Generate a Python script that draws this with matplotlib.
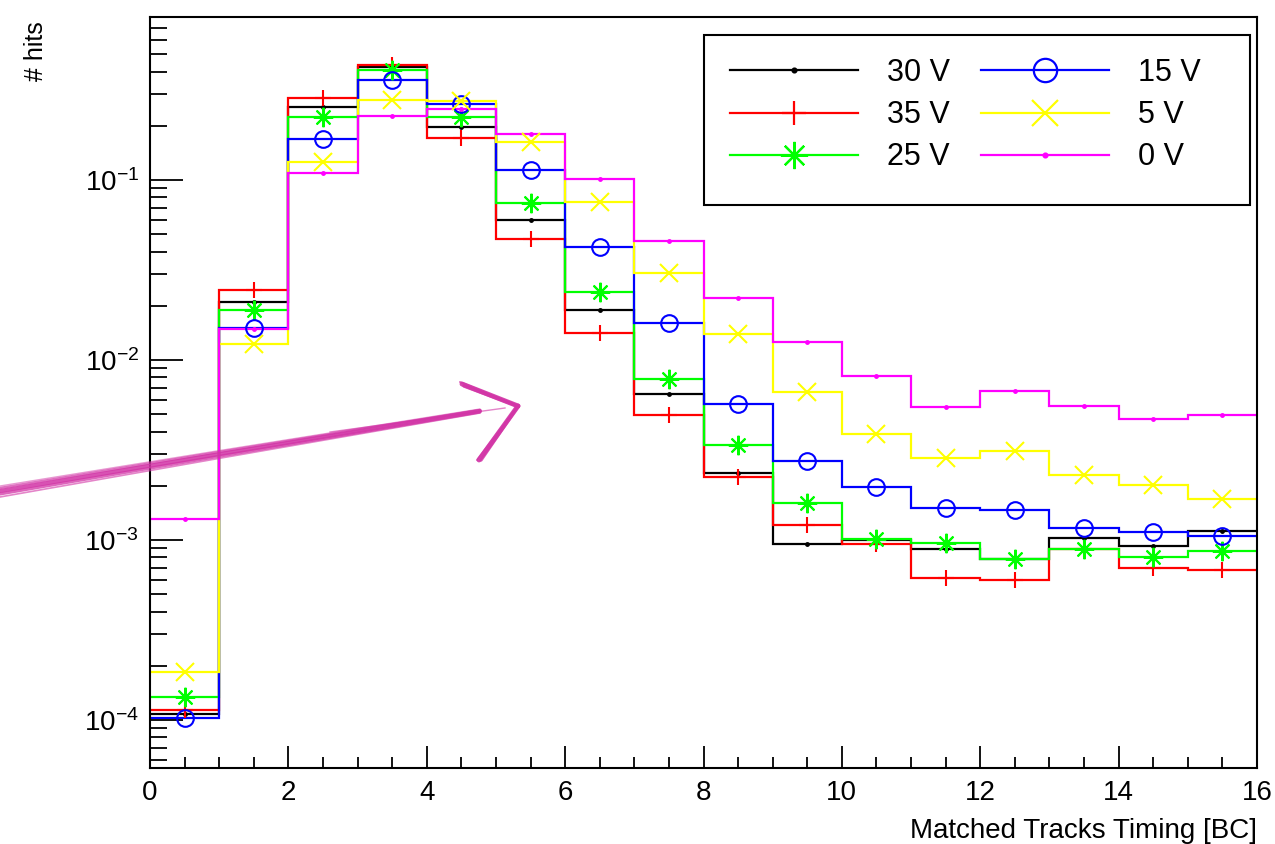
import numpy as np
import matplotlib
matplotlib.use("Agg")
import matplotlib.pyplot as plt
from matplotlib.ticker import LogLocator, MultipleLocator, NullFormatter
from matplotlib.patches import Rectangle

plt.rcParams['font.family'] = ['Liberation Sans', 'DejaVu Sans']
plt.rcParams['mathtext.fontset'] = 'custom'
plt.rcParams['mathtext.rm'] = 'Liberation Sans'

# timing bins [BC]
edges = np.arange(0, 17)

v30 = [1.08e-4, 0.0210, 0.255, 0.426, 0.197, 0.0600, 0.0189, 0.0065,
       0.00237, 0.00095, 0.00100, 0.000887, 0.000781, 0.00102, 0.00093, 0.00112]
v35 = [1.14e-4, 0.0245, 0.286, 0.435, 0.172, 0.0470, 0.0141, 0.00495,
       0.00223, 0.00121, 0.00095, 0.000612, 0.000597, 0.00089, 0.000697, 0.000681]
v25 = [1.35e-4, 0.0189, 0.225, 0.408, 0.225, 0.0745, 0.0239, 0.0078,
       0.00336, 0.00160, 0.00101, 0.00096, 0.000781, 0.000895, 0.000807, 0.000873]
v15 = [1.03e-4, 0.0151, 0.168, 0.359, 0.264, 0.114, 0.0425, 0.0160,
       0.0057, 0.00274, 0.00197, 0.00151, 0.00146, 0.00116, 0.00111, 0.00105]
v5 = [1.85e-4, 0.0122, 0.126, 0.278, 0.276, 0.163, 0.0755, 0.0305,
      0.0139, 0.0066, 0.00386, 0.00284, 0.00312, 0.00230, 0.00202, 0.00169]
v0 = [1.31e-3, 0.0149, 0.109, 0.227, 0.247, 0.180, 0.1016, 0.0456,
      0.0220, 0.0126, 0.00818, 0.00548, 0.00676, 0.00557, 0.00468, 0.00497]

labels = ['30 V', '35 V', '25 V', '15 V', '5 V', '0 V']
series = [v30, v35, v25, v15, v5, v0]
colors = ['black', '#ff0000', '#00ff00', '#0000ff', '#ffff00', '#ff00ff']
markers = ['.', '+', (8, 2, 0), 'o', 'x', '.']
msizes = [4, 12, 14, 12, 13, 4]

fig = plt.figure(figsize=(12.75, 8.44), dpi=100)
ax = fig.add_axes([150/1275, 1 - 768/844, 1107/1275, 751/844])

centers = 0.5 * (edges[:-1] + edges[1:])
handles = []
for vals, col, mk, ms, lab in zip(series, colors, markers, msizes, labels):
    ax.stairs(vals, edges, color=col, lw=1.6, baseline=None)
    h, = ax.plot(centers, vals, ls='none', color=col, marker=mk, ms=ms,
                 mew=1.5, mfc='none' if mk == 'o' else col, label=lab)
    handles.append(h)

ax.set_yscale('log')
ax.set_xlim(0, 16)
ax.set_ylim(5.41e-5, 0.804)

ax.xaxis.set_major_locator(MultipleLocator(2))
ax.xaxis.set_minor_locator(MultipleLocator(0.5))
ax.yaxis.set_major_locator(LogLocator(base=10, numticks=10))
ax.yaxis.set_minor_locator(LogLocator(base=10, subs=np.arange(2, 10), numticks=20))
ax.yaxis.set_minor_formatter(NullFormatter())

ax.tick_params(axis='both', which='both', direction='in', labelsize=20, width=1.3)
ax.tick_params(axis='x', which='major', length=16, pad=9)
ax.tick_params(axis='x', which='minor', length=8)
ax.tick_params(axis='y', which='major', length=24, pad=8)
ax.tick_params(axis='y', which='minor', length=12)
for s in ax.spines.values():
    s.set_linewidth(1.5)

ax.set_xlabel('Matched Tracks Timing [BC]', loc='right', fontsize=20, labelpad=8)
ax.set_ylabel('# hits', loc='top', fontsize=18)
ax.yaxis.set_label_coords(-0.092, 0.995)

# legend: line handles with markers, manual frame
leg_handles = []
for h in handles:
    lh = plt.Line2D([], [], color=h.get_color(), lw=1.6, marker=h.get_marker(),
                    ms=h.get_markersize() * 1.4, mew=1.6,
                    mfc=h.get_markerfacecolor())
    leg_handles.append(lh)
leg = ax.legend(leg_handles, labels, ncol=2, loc='upper left',
                bbox_to_anchor=((730 - 150) / 1107, (768 - 58) / 751),
                frameon=False, fontsize=22, handlelength=4.2, handletextpad=0.95,
                columnspacing=1.0, labelspacing=0.40, borderpad=0, borderaxespad=0)
ax.add_patch(Rectangle(((704 - 150) / 1107, (768 - 205) / 751),
                       (1250 - 704) / 1107, 170 / 751, transform=ax.transAxes,
                       fill=False, edgecolor='black', lw=1.5, zorder=5))

# hand-drawn arrow overlay, in pixel space
ov = fig.add_axes([0, 0, 1, 1], facecolor='none')
ov.set_xlim(0, 1275)
ov.set_ylim(844, 0)
ov.axis('off')
pink = '#d234a6'
strokes = [(0, 0, 3.0, 0.85), (3, 1, 2.2, 0.75), (-3, -1, 1.8, 0.7),
           (6, 2, 1.2, 0.6), (-5, -2, 1.0, 0.5)]
for dy0, dy1, lw, a in strokes:
    ov.plot([0, 220, 480], [491 + dy0, 454 + dy0 * 0.7, 411 + dy1],
            color=pink, lw=lw, alpha=a, solid_capstyle='round')
ov.plot([330, 505], [432, 408], color=pink, lw=1.0, alpha=0.6)
for dx, lw, a in [(0, 3.5, 0.9), (2, 2.5, 0.8), (-2, 1.5, 0.7)]:
    ov.plot([462 + dx, 518], [384 + dx, 406], color=pink, lw=lw, alpha=a,
            solid_capstyle='round')
    ov.plot([518, 479 + dx], [406, 460], color=pink, lw=lw, alpha=a,
            solid_capstyle='round')

fig.savefig('out.png', dpi=100)
